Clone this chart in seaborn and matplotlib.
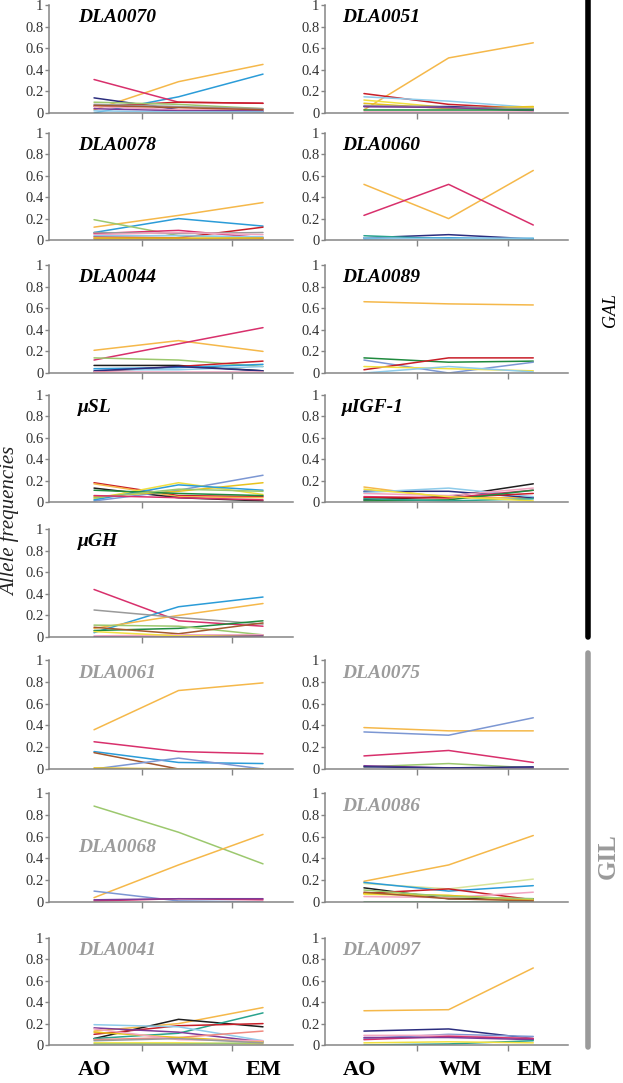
import matplotlib
matplotlib.use('Agg')
import numpy as np
import pandas as pd
import matplotlib.pyplot as plt
import matplotlib.transforms as mtransforms
from matplotlib.lines import Line2D
from matplotlib.ticker import FuncFormatter
import seaborn as sns

# colours used for the alleles
ORANGE = '#F5B84A'
BLUE = '#2B9CD8'
CRIMSON = '#D8306C'
RED = '#C81E28'
NAVY = '#2B2D7E'
GREEN = '#1F8A3E'
LGREEN = '#9CC86E'
GRAY = '#9A9A9A'
BLACK = '#1E1E1E'
BROWN = '#A4582E'
LBLUE = '#8ECBEA'
YELLOW = '#F1E040'
GOLD = '#E8C21E'
PINK = '#F2A4C0'
PURPLE = '#7D3C98'
PERIW = '#7C97D3'
TEAL = '#2AA38E'
SALMON = '#F08A80'

pops = ['AO', 'WM', 'EM']

# allele frequencies per marker: (colour, [AO, WM, EM])
dla0070 = [(ORANGE, [0.03, 0.29, 0.45]), (BLUE, [0.00, 0.15, 0.36]),
           (CRIMSON, [0.31, 0.10, 0.09]), (NAVY, [0.14, 0.03, 0.01]),
           (RED, [0.06, 0.10, 0.09]), (LGREEN, [0.10, 0.08, 0.04]),
           (GRAY, [0.08, 0.06, 0.04]), (PINK, [0.06, 0.03, 0.03]),
           (PURPLE, [0.04, 0.02, 0.02]), (LBLUE, [0.02, 0.01, 0.01]),
           (BROWN, [0.07, 0.05, 0.03])]
dla0051 = [(ORANGE, [0.03, 0.51, 0.65]), (RED, [0.18, 0.08, 0.04]),
           (LBLUE, [0.15, 0.11, 0.05]), (YELLOW, [0.12, 0.05, 0.05]),
           (GOLD, [0.09, 0.04, 0.06]), (NAVY, [0.06, 0.06, 0.03]),
           (GRAY, [0.07, 0.05, 0.04]), (PURPLE, [0.06, 0.05, 0.02]),
           (PINK, [0.01, 0.01, 0.01]), (GREEN, [0.03, 0.03, 0.03])]
dla0078 = [(ORANGE, [0.12, 0.23, 0.35]), (BLUE, [0.07, 0.20, 0.13]),
           (LGREEN, [0.19, 0.04, 0.02]), (CRIMSON, [0.06, 0.09, 0.02]),
           (RED, [0.03, 0.02, 0.12]), (GRAY, [0.07, 0.06, 0.07]),
           (PINK, [0.05, 0.07, 0.05]), (BROWN, [0.01, 0.01, 0.01]),
           (LBLUE, [0.04, 0.04, 0.03]), (GOLD, [0.02, 0.02, 0.02])]
dla0060 = [(ORANGE, [0.52, 0.20, 0.65]), (CRIMSON, [0.23, 0.52, 0.14]),
           (NAVY, [0.02, 0.05, 0.01]), (TEAL, [0.04, 0.01, 0.01]),
           (BLUE, [0.01, 0.02, 0.01]), (LBLUE, [0.02, 0.01, 0.02])]
dla0044 = [(ORANGE, [0.21, 0.30, 0.20]), (CRIMSON, [0.12, 0.27, 0.42]),
           (LGREEN, [0.14, 0.12, 0.06]), (BLACK, [0.07, 0.07, 0.02]),
           (RED, [0.01, 0.06, 0.11]), (BLUE, [0.04, 0.05, 0.08]),
           (LBLUE, [0.03, 0.03, 0.06]), (NAVY, [0.02, 0.06, 0.02]),
           (PINK, [0.01, 0.01, 0.01])]
dla0089 = [(ORANGE, [0.66, 0.64, 0.63]), (GREEN, [0.14, 0.10, 0.11]),
           (PERIW, [0.12, 0.00, 0.10]), (RED, [0.03, 0.14, 0.14]),
           (YELLOW, [0.06, 0.04, 0.02]), (LBLUE, [0.00, 0.06, 0.01])]
usl = [(RED, [0.18, 0.06, 0.05]), (ORANGE, [0.17, 0.05, 0.04]),
       (BLACK, [0.13, 0.04, 0.01]), (PERIW, [0.01, 0.11, 0.25]),
       (YELLOW, [0.03, 0.18, 0.07]), (GOLD, [0.05, 0.10, 0.18]),
       (BLUE, [0.02, 0.16, 0.11]), (GREEN, [0.11, 0.08, 0.06]),
       (LGREEN, [0.04, 0.12, 0.10]), (CRIMSON, [0.06, 0.04, 0.02])]
uigf1 = [(ORANGE, [0.14, 0.04, 0.04]), (BLACK, [0.02, 0.05, 0.17]),
         (NAVY, [0.10, 0.10, 0.04]), (LBLUE, [0.09, 0.13, 0.05]),
         (PINK, [0.08, 0.06, 0.13]), (CRIMSON, [0.05, 0.04, 0.11]),
         (RED, [0.04, 0.04, 0.08]), (GREEN, [0.01, 0.02, 0.11]),
         (TEAL, [0.03, 0.01, 0.03]), (YELLOW, [0.12, 0.05, 0.01])]
ugh = [(CRIMSON, [0.44, 0.15, 0.10]), (BLUE, [0.04, 0.28, 0.37]),
       (ORANGE, [0.08, 0.20, 0.31]), (GRAY, [0.25, 0.18, 0.12]),
       (GREEN, [0.06, 0.08, 0.15]), (LGREEN, [0.11, 0.10, 0.02]),
       (BROWN, [0.09, 0.03, 0.13]), (PINK, [0.01, 0.02, 0.02]),
       (YELLOW, [0.05, 0.01, 0.01]), (PURPLE, [0.00, 0.00, 0.01])]
dla0061 = [(ORANGE, [0.36, 0.72, 0.79]), (CRIMSON, [0.25, 0.16, 0.14]),
           (BLUE, [0.16, 0.06, 0.05]), (BROWN, [0.15, 0.00, 0.00]),
           (PERIW, [0.00, 0.10, 0.00]), (GOLD, [0.01, 0.00, 0.00])]
dla0075 = [(ORANGE, [0.38, 0.35, 0.35]), (PERIW, [0.34, 0.31, 0.47]),
           (CRIMSON, [0.12, 0.17, 0.06]), (LGREEN, [0.02, 0.05, 0.01]),
           (PURPLE, [0.03, 0.01, 0.01]), (NAVY, [0.02, 0.01, 0.02])]
dla0068 = [(LGREEN, [0.88, 0.64, 0.35]), (ORANGE, [0.04, 0.34, 0.62]),
           (PERIW, [0.10, 0.01, 0.00]), (CRIMSON, [0.01, 0.03, 0.02]),
           (PURPLE, [0.02, 0.03, 0.03])]
dla0086 = [(ORANGE, [0.19, 0.34, 0.61]), ('#D8E49A', [0.17, 0.12, 0.21]),
           (BLUE, [0.18, 0.10, 0.15]), (BLACK, [0.13, 0.03, 0.03]),
           (RED, [0.08, 0.12, 0.02]), (PINK, [0.05, 0.04, 0.09]),
           (YELLOW, [0.07, 0.06, 0.01]), (GOLD, [0.08, 0.06, 0.02]),
           (GREEN, [0.00, 0.00, 0.00]), (LGREEN, [0.11, 0.05, 0.03]),
           (BROWN, [0.09, 0.03, 0.01])]
dla0041 = [(ORANGE, [0.13, 0.20, 0.35]), (BLACK, [0.06, 0.24, 0.17]),
           (TEAL, [0.06, 0.11, 0.30]), (RED, [0.10, 0.18, 0.20]),
           (LBLUE, [0.19, 0.17, 0.04]), (PURPLE, [0.16, 0.12, 0.03]),
           (SALMON, [0.05, 0.07, 0.13]), (GOLD, [0.12, 0.07, 0.03]),
           (PINK, [0.15, 0.05, 0.04]), (YELLOW, [0.02, 0.02, 0.01]),
           (LGREEN, [0.01, 0.01, 0.02]), (GRAY, [0.04, 0.06, 0.02])]
dla0097 = [(ORANGE, [0.32, 0.33, 0.72]), (NAVY, [0.13, 0.15, 0.06]),
           (PERIW, [0.06, 0.10, 0.08]), (PINK, [0.09, 0.09, 0.06]),
           (CRIMSON, [0.05, 0.08, 0.06]), (PURPLE, [0.07, 0.07, 0.05]),
           (TEAL, [0.00, 0.01, 0.04]), (YELLOW, [0.02, 0.03, 0.02])]

# (name, data, row, col, group)
panels = [
    ('DLA0070', dla0070, 0, 0, 'GAL'), ('DLA0051', dla0051, 0, 1, 'GAL'),
    ('DLA0078', dla0078, 1, 0, 'GAL'), ('DLA0060', dla0060, 1, 1, 'GAL'),
    ('DLA0044', dla0044, 2, 0, 'GAL'), ('DLA0089', dla0089, 2, 1, 'GAL'),
    ('\u03bcSL', usl, 3, 0, 'GAL'), ('\u03bcIGF-1', uigf1, 3, 1, 'GAL'),
    ('\u03bcGH', ugh, 4, 0, 'GAL'),
    ('DLA0061', dla0061, 5, 0, 'GIL'), ('DLA0075', dla0075, 5, 1, 'GIL'),
    ('DLA0068', dla0068, 6, 0, 'GIL'), ('DLA0086', dla0086, 6, 1, 'GIL'),
    ('DLA0041', dla0041, 7, 0, 'GIL'), ('DLA0097', dla0097, 7, 1, 'GIL'),
]

sns.set_theme(style='white')
plt.rcParams['font.family'] = ['Liberation Serif', 'DejaVu Serif']

W, H = 623, 1083
fig = plt.figure(figsize=(W / 100, H / 100), dpi=100)

# pixel layout of the rows (top of y=1, y=0) and the two columns
row_px = [(5, 113), (133, 240), (265, 373), (395, 502), (529, 637),
          (660, 769), (793, 902), (938, 1045)]
col_px = [(49, 293), (325, 568)]
col_xlim = [(-0.533, 2.355), (-0.46, 2.41)]
col_ticks = [(0.57, 1.63), (0.63, 1.70)]
col_title_x = [0.12, 0.07]
axis_col = '#858585'

bottom_axes = {}
for name, data, r, c, grp in panels:
    top, bot = row_px[r]
    x0, x1 = col_px[c]
    ax = fig.add_axes([x0 / W, 1 - bot / H, (x1 - x0) / W, (bot - top) / H])
    df = pd.DataFrame([{'allele': i, 'pop': j, 'freq': v}
                       for i, (col, vals) in enumerate(data)
                       for j, v in enumerate(vals)])
    pal = {i: col for i, (col, vals) in enumerate(data)}
    sns.lineplot(data=df, x='pop', y='freq', hue='allele', palette=pal,
                 estimator=None, legend=False, linewidth=1.1, ax=ax)
    ax.set_xlim(*col_xlim[c])
    ax.set_ylim(0, 1)
    ax.set_xticks(col_ticks[c])
    ax.set_xticklabels([])
    ax.set_yticks(np.arange(0, 1.01, 0.2))
    ax.yaxis.set_major_formatter(FuncFormatter(lambda v, _: f'{v:g}'))
    ax.set_xlabel('')
    ax.set_ylabel('')
    for s in ['top', 'right']:
        ax.spines[s].set_visible(False)
    for s in ['left', 'bottom']:
        ax.spines[s].set_color(axis_col)
        ax.spines[s].set_linewidth(1.1)
    ax.tick_params(axis='y', direction='out', length=3, width=1, color=axis_col,
                   labelsize=10.5, labelcolor='#333333', pad=1, left=True)
    ax.tick_params(axis='x', direction='out', length=4, width=1, color=axis_col,
                   bottom=True)
    ax.patch.set_alpha(0)
    tcol = 'black' if grp == 'GAL' else '#9C9C9C'
    ty = 0.5 if name == 'DLA0068' else 0.88
    ax.text(col_title_x[c], ty, name, transform=ax.transAxes, fontsize=14,
            fontweight='bold', fontstyle='italic', color=tcol, va='center')
    if r == 7:
        bottom_axes[c] = ax

# population labels under the bottom row
label_x = [[0.0, 1.1, 2.01], [-0.05, 1.14, 2.02]]
for c, ax in bottom_axes.items():
    tr = mtransforms.blended_transform_factory(ax.transData, fig.transFigure)
    for p, xx in zip(pops, label_x[c]):
        ax.text(xx, 1 - 1070 / H, p, transform=tr, ha='center', va='center',
                fontsize=16, fontweight='bold', color='black')

fig.text(10 / W, 1 - 521 / H, 'Allele frequencies', rotation=90,
         fontstyle='italic', fontsize=15, ha='center', va='center', color='#222222')

# group bars and labels
fig.add_artist(Line2D([587.5 / W, 587.5 / W], [1, 1 - 637 / H], color='black',
                      linewidth=4, transform=fig.transFigure))
fig.add_artist(Line2D([587.5 / W, 587.5 / W], [1 - 653 / H, 1 - 1047 / H],
                      color='#9A9A9A', linewidth=4, transform=fig.transFigure))
fig.text(610 / W, 1 - 310 / H, 'GAL', rotation=90, fontstyle='italic',
         fontsize=13, ha='center', va='center', color='black')
fig.text(608 / W, 1 - 856 / H, 'GIL', rotation=90, fontweight='bold',
         fontsize=18, ha='center', va='center', color='#9A9A9A')

fig.savefig('out.png', dpi=100)
